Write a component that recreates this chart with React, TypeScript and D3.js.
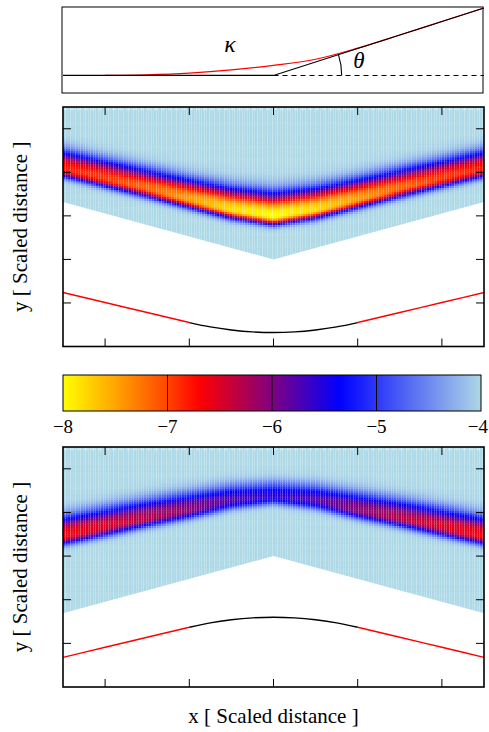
import React, { useMemo } from "react";
import * as d3 from "d3";

// ---------- data ----------
const xTicks = [-2, -1, 0, 1, 2];
const yTicks = [-2, -1, 0, 1, 2];
const cbTicks = [-8, -7, -6, -5, -4];
const cbInner = [-7, -6, -5];

const colorStops = [-8, -7.5, -7, -6.7, -6, -5.35, -4];
const colorValues = ["#ffff00", "#ffa500", "#ff4500", "#ff0000", "#800080", "#0000ff", "#add8e6"];

const bandX = [-2.5, -2, -1.5, -1, -0.5, 0, 0.5, 1, 1.5, 2, 2.5];
// middle panel band
const midPeakY = [1.1, 0.87, 0.64, 0.39, 0.15, 0.0, 0.15, 0.39, 0.64, 0.87, 1.1];
const midPeakV = [-6.8, -6.95, -7.15, -7.45, -7.8, -8.0, -7.8, -7.45, -7.15, -6.95, -6.8];
const midWUp = [0.4, 0.41, 0.42, 0.44, 0.47, 0.5, 0.47, 0.44, 0.42, 0.41, 0.4];
const midWDown = [0.2, 0.2, 0.2, 0.2, 0.2, 0.19, 0.2, 0.2, 0.2, 0.2, 0.2];
// bottom panel band
const botPeakY = [0.48, 0.68, 0.88, 1.07, 1.28, 1.38, 1.28, 1.07, 0.88, 0.68, 0.48];
const botPeakV = [-6.65, -6.5, -6.3, -6.05, -5.75, -5.55, -5.75, -6.05, -6.3, -6.5, -6.65];
const botWUp = [0.42, 0.42, 0.41, 0.39, 0.35, 0.32, 0.35, 0.39, 0.41, 0.42, 0.42];
const botWDown = [0.21, 0.21, 0.2, 0.2, 0.19, 0.18, 0.19, 0.2, 0.2, 0.21, 0.21];

// lower boundary of the field region
const boundX = [-2.5, 0, 2.5];
const midBoundY = [0.32, -1.0, 0.32];
const botBoundY = [-1.31, 0, -1.31];

// curves under the field
const curveX = [-2.5, -2, -1.5, -1, -0.75, -0.5, -0.25, 0, 0.25, 0.5, 0.75, 1, 1.5, 2, 2.5];
const midCurveY = [-1.76, -1.99, -2.22, -2.45, -2.55, -2.62, -2.665, -2.68, -2.665, -2.62, -2.55, -2.45, -2.22, -1.99, -1.76];
const botCurveY = [-2.32, -2.09, -1.86, -1.63, -1.53, -1.46, -1.415, -1.4, -1.415, -1.46, -1.53, -1.63, -1.86, -2.09, -2.32];

// top schematic
const kinkX = [-2.5, 0, 2.5];
const kinkY = [0, 0, 1];
const dashX = [0, 2.5];
const dashY = [0, 0];
const redX = [-2, -1.5, -1, -0.5, 0, 0.5, 1, 1.5, 2, 2.5];
const redY = [0, 0.01, 0.035, 0.082, 0.15, 0.24, 0.405, 0.6, 0.8, 1.0];

// ---------- layout ----------
const L = 63, R = 484;
const midTop = 107, midBot = 346.5;
const botTop = 447, botBot = 687;
const FONT = '"Liberation Serif", Tinos, "Times New Roman", Times, "DejaVu Serif", serif';
const P = 2.4; // exponent of the cross-section profile

const x = d3.scaleLinear().domain([-2.5, 2.5]).range([L, R]);
const yMid = d3.scaleLinear().domain([-3, 2.5]).range([midBot, midTop]);
const yBot = d3.scaleLinear().domain([-3, 2.5]).range([botBot, botTop]);
const yTop = d3.scaleLinear().domain([-0.26, 1.015]).range([93, 7]);
const cb = d3.scaleLinear().domain([-8, -4]).range([63, 481]);
const color = d3
  .scaleLinear<string>()
  .domain(colorStops)
  .range(colorValues)
  .interpolate(d3.interpolateRgb)
  .clamp(true);

function fieldImage(
  y: d3.ScaleLinear<number, number>,
  peakY: number[],
  peakV: number[],
  wUp: number[],
  wDown: number[]
): string {
  if (typeof document === "undefined") return "";
  const top = y.range()[1];
  const w = Math.ceil(R - L);
  const h = Math.ceil(y.range()[0] - top);
  const canvas = document.createElement("canvas");
  canvas.width = w;
  canvas.height = h;
  const ctx = canvas.getContext("2d");
  if (!ctx) return "";
  const pY = d3.scaleLinear().domain(bandX).range(peakY);
  const pV = d3.scaleLinear().domain(bandX).range(peakV);
  const wU = d3.scaleLinear().domain(bandX).range(wUp);
  const wD = d3.scaleLinear().domain(bandX).range(wDown);
  const dx = 0.03, dy = 0.05;
  const cols = d3.range(-2.5, 2.5, dx);
  const rows = d3.range(-3, 2.5, dy);
  for (const cx of cols) {
    const mx = cx + dx / 2;
    const py = pY(mx), pv = pV(mx), wu = wU(mx), wd = wD(mx);
    const x0 = x(cx) - L;
    const cw = x(cx + dx) - x(cx) - 0.2;
    for (const cy of rows) {
      const my = cy + dy / 2;
      const d = my - py;
      const ww = d >= 0 ? wu : wd;
      const f = Math.exp(-Math.pow(Math.abs(d) / ww, P));
      const v = -4 + (pv + 4) * f;
      ctx.fillStyle = color(v);
      const y0 = y(cy + dy) - top;
      const ch = y(cy) - y(cy + dy);
      ctx.fillRect(x0, y0, cw, ch + 0.4);
    }
  }
  return canvas.toDataURL();
}

function Frame({ y, top, bot }: { y: d3.ScaleLinear<number, number>; top: number; bot: number }) {
  const t = 8;
  return (
    <g>
      {xTicks.map((v) => (
        <g key={"x" + v}>
          <line x1={x(v)} x2={x(v)} y1={bot} y2={bot - t} stroke="#000" strokeWidth={1} />
          <line x1={x(v)} x2={x(v)} y1={top} y2={top + t} stroke="#000" strokeWidth={1} />
        </g>
      ))}
      {yTicks.map((v) => (
        <g key={"y" + v}>
          <line x1={L} x2={L + t} y1={y(v)} y2={y(v)} stroke="#000" strokeWidth={1} />
          <line x1={R} x2={R - t} y1={y(v)} y2={y(v)} stroke="#000" strokeWidth={1} />
        </g>
      ))}
      <rect x={L} y={top} width={R - L} height={bot - top} fill="none" stroke="#000" strokeWidth={1.6} />
    </g>
  );
}

function FieldPanel({
  id,
  y,
  top,
  bot,
  peakY,
  peakV,
  wUp,
  wDown,
  boundY,
  curveY,
}: {
  id: string;
  y: d3.ScaleLinear<number, number>;
  top: number;
  bot: number;
  peakY: number[];
  peakV: number[];
  wUp: number[];
  wDown: number[];
  boundY: number[];
  curveY: number[];
}) {
  const href = useMemo(() => fieldImage(y, peakY, peakV, wUp, wDown), [y, peakY, peakV, wUp, wDown]);
  const clipPts: [number, number][] = [
    [x(-2.5), y(2.5)],
    [x(2.5), y(2.5)],
    ...boundX
      .map((bx, i) => [x(bx), y(boundY[i])] as [number, number])
      .reverse(),
  ];
  const clipPath = d3.line()(clipPts) + "Z";
  const pts = curveX.map((cx, i) => ({ x: cx, y: curveY[i] }));
  const line = d3
    .line<{ x: number; y: number }>()
    .x((d) => x(d.x))
    .y((d) => y(d.y))
    .curve(d3.curveMonotoneX);
  const leftPts = pts.filter((p) => p.x <= -1);
  const midPts = pts.filter((p) => p.x >= -1 && p.x <= 1);
  const rightPts = pts.filter((p) => p.x >= 1);
  return (
    <g>
      <defs>
        <clipPath id={id}>
          <path d={clipPath} />
        </clipPath>
      </defs>
      <g clipPath={`url(#${id})`}>
        <image href={href} x={L} y={top} width={Math.ceil(R - L)} height={Math.ceil(bot - top)} preserveAspectRatio="none" />
      </g>
      <line
        x1={x(-2.5)}
        x2={x(2.5)}
        y1={y(2.45)}
        y2={y(2.45)}
        stroke="#fff"
        strokeWidth={0.8}
        strokeDasharray="4,3"
        opacity={0.8}
      />
      <path d={line(leftPts) || ""} fill="none" stroke="#ff0000" strokeWidth={1.4} />
      <path d={line(rightPts) || ""} fill="none" stroke="#ff0000" strokeWidth={1.4} />
      <path d={line(midPts) || ""} fill="none" stroke="#000" strokeWidth={1.4} />
      <Frame y={y} top={top} bot={bot} />
    </g>
  );
}

function TopPanel() {
  const kink = d3.line<[number, number]>().x((d) => x(d[0])).y((d) => yTop(d[1]))(
    kinkX.map((v, i) => [v, kinkY[i]] as [number, number])
  );
  const dash = d3.line<[number, number]>().x((d) => x(d[0])).y((d) => yTop(d[1]))(
    dashX.map((v, i) => [v, dashY[i]] as [number, number])
  );
  const red = d3
    .line<[number, number]>()
    .x((d) => x(d[0]))
    .y((d) => yTop(d[1]))
    .curve(d3.curveMonotoneX)(redX.map((v, i) => [v, redY[i]] as [number, number]));
  // angle arc centred on the kink
  const cx = x(0), cy = yTop(0);
  const r = x(0.81) - x(0);
  const ang = Math.atan2(yTop(0) - yTop(1), x(2.5) - x(0));
  const arc = `M${cx + r},${cy} A${r},${r} 0 0 0 ${cx + r * Math.cos(ang)},${cy - r * Math.sin(ang)}`;
  return (
    <g>
      <rect x={62} y={7} width={421} height={86} fill="none" stroke="#000" strokeWidth={1} />
      <path d={dash || ""} fill="none" stroke="#000" strokeWidth={1.1} strokeDasharray="5,4" />
      <path d={red || ""} fill="none" stroke="#ff0000" strokeWidth={1.2} />
      <path d={kink || ""} fill="none" stroke="#000" strokeWidth={1.2} />
      <path d={arc} fill="none" stroke="#000" strokeWidth={1.1} />
      <text x={230} y={52} style={{ fontFamily: FONT }} fontStyle="italic" fontSize={24} textAnchor="middle">
        κ
      </text>
      <text x={359} y={68} style={{ fontFamily: FONT }} fontStyle="italic" fontSize={23} textAnchor="middle">
        θ
      </text>
    </g>
  );
}

function ColorBar() {
  const top = 375, bot = 411;
  const stops = d3.range(0, 1.0001, 0.02);
  return (
    <g>
      <defs>
        <linearGradient id="cbgrad" x1="0" x2="1" y1="0" y2="0">
          {stops.map((t) => (
            <stop key={t} offset={t} stopColor={color(-8 + 4 * t)} />
          ))}
        </linearGradient>
      </defs>
      <rect x={cb(-8)} y={top} width={cb(-4) - cb(-8)} height={bot - top} fill="url(#cbgrad)" stroke="#000" strokeWidth={1} />
      {cbInner.map((v) => (
        <line key={v} x1={cb(v)} x2={cb(v)} y1={top} y2={bot} stroke="#000" strokeWidth={1} />
      ))}
      {cbTicks.map((v, i) => (
        <text
          key={v}
          x={i === cbTicks.length - 1 ? 488 : cb(v)}
          y={433}
          style={{ fontFamily: FONT }}
          fontSize={19}
          textAnchor={i === cbTicks.length - 1 ? "end" : "middle"}
        >
          {"\u2212" + Math.abs(v)}
        </text>
      ))}
    </g>
  );
}

export default function App() {
  return (
    <svg
      width={489}
      height={732}
      viewBox="0 0 489 732"
      style={{ position: "absolute", left: 0, top: 0, background: "#fff" }}
    >
      <rect x={0} y={0} width={489} height={732} fill="#fff" />
      <TopPanel />
      <FieldPanel
        id="clipMid"
        y={yMid}
        top={midTop}
        bot={midBot}
        peakY={midPeakY}
        peakV={midPeakV}
        wUp={midWUp}
        wDown={midWDown}
        boundY={midBoundY}
        curveY={midCurveY}
      />
      <ColorBar />
      <FieldPanel
        id="clipBot"
        y={yBot}
        top={botTop}
        bot={botBot}
        peakY={botPeakY}
        peakV={botPeakV}
        wUp={botWUp}
        wDown={botWDown}
        boundY={botBoundY}
        curveY={botCurveY}
      />
      <text
        transform={`translate(22,${(midTop + midBot) / 2}) rotate(-90)`}
        style={{ fontFamily: FONT }}
        fontSize={21}
        textAnchor="middle"
        dominantBaseline="middle"
      >
        y [ Scaled distance ]
      </text>
      <text
        transform={`translate(22,${(botTop + botBot) / 2}) rotate(-90)`}
        style={{ fontFamily: FONT }}
        fontSize={21}
        textAnchor="middle"
        dominantBaseline="middle"
      >
        y [ Scaled distance ]
      </text>
      <text x={(L + R) / 2} y={723} style={{ fontFamily: FONT }} fontSize={21} textAnchor="middle">
        x [ Scaled distance ]
      </text>
    </svg>
  );
}
